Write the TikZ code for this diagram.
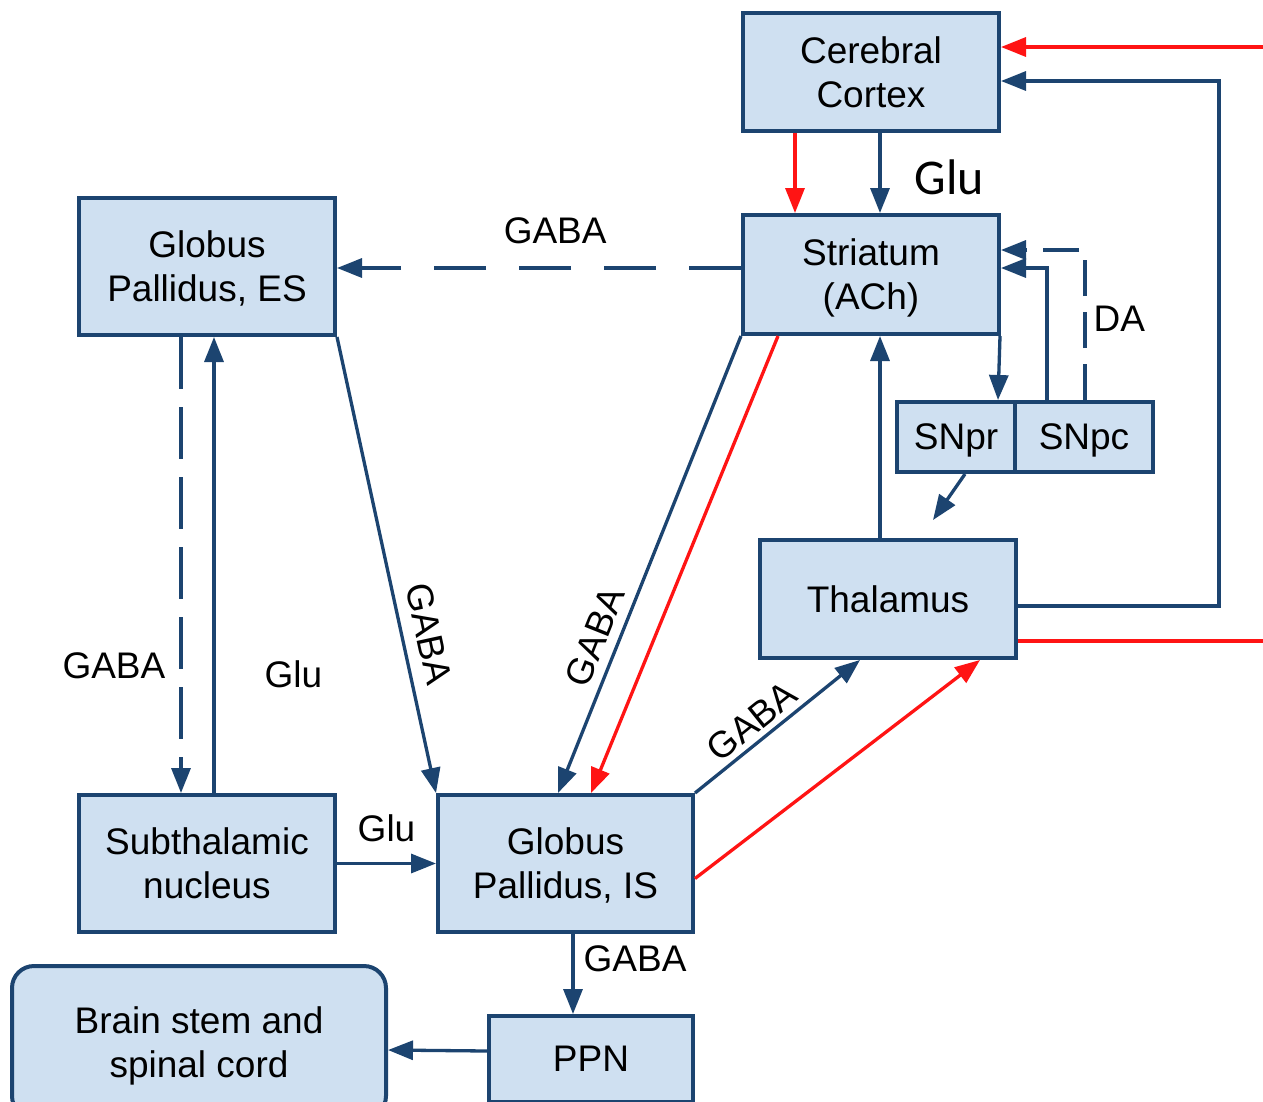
\documentclass[tikz,border=0pt]{standalone}
\usepackage{fontspec}
\setmainfont{Liberation Sans}
\newfontfamily\glufont{Carlito}
\usetikzlibrary{arrows.meta,calc}
\definecolor{boxfill}{RGB}{207,224,241}
\definecolor{dkblue}{RGB}{28,68,112}
\definecolor{myred}{RGB}{255,20,20}
\begin{document}
\begin{tikzpicture}[x=1pt,y=-1pt,
  box/.style={draw=dkblue, line width=4pt, fill=boxfill, inner sep=0pt, align=center, text depth=0pt, font=\fontsize{37}{44}\selectfont},
  conn/.style={draw=dkblue, line width=3.3pt, -{Triangle[length=25pt,width=19pt]}},
  redconn/.style={draw=myred, line width=3.3pt, -{Triangle[length=25pt,width=19pt]}},
  dashconn/.style={conn, dash pattern=on 52pt off 33pt},
  lbl/.style={font=\fontsize{37}{44}\selectfont, inner sep=2pt, text=black},
]
\useasboundingbox (0,0) rectangle (1263,1101);
\fill[white] (0,0) rectangle (1263,1101);
\clip (0,0) rectangle (1263,1101);

% nodes
\node[box, minimum width=256pt, minimum height=118pt] (cortex) at (871,72) {Cerebral\\Cortex};
\node[box, minimum width=256pt, minimum height=119pt] (stri) at (871,274.5) {Striatum\\(ACh)};
\node[box, minimum width=256pt, minimum height=137pt] (gpe) at (207,266.5) {Globus\\Pallidus, ES};
\node[box, minimum width=118pt, minimum height=70pt] (snpr) at (956,437) {SNpr};
\node[box, minimum width=138pt, minimum height=70pt] (snpc) at (1084,437) {SNpc};
\node[box, minimum width=256pt, minimum height=118pt] (thal) at (888,599) {Thalamus};
\node[box, minimum width=256pt, minimum height=137pt] (stn) at (207,863.5) {Subthalamic\\nucleus};
\node[box, minimum width=255pt, minimum height=137pt] (gpi) at (565.5,863.5) {Globus\\Pallidus, IS};
\node[box, rounded corners=22pt, minimum width=374pt, minimum height=152pt] (bs) at (199,1042) {Brain stem and\\spinal cord};
\node[box, minimum width=204pt, minimum height=86pt] (ppn) at (591,1059) {PPN};

\coordinate (redT) at (1263,47);
\coordinate (redR) at (1263,641);
\coordinate (snprEnd) at (933,520);

% connectors
\draw[redconn] (redT) -- ($(cortex.east)+(0,-25)$);
\draw[conn] ($(thal.east)+(0,7)$) -| (1219,81) -- ($(cortex.east)+(0,9)$);
\draw[draw=myred, line width=3.3pt] ($(thal.east)+(0,42)$) -- (redR);
\draw[redconn] ($(cortex.south)+(-76,0)$) -- ($(stri.north)+(-76,0)$);
\draw[conn] ($(cortex.south)+(9,0)$) -- node[pos=0.56, right=31pt, lbl, font=\glufont\fontsize{50}{56}\selectfont] {Glu} ($(stri.north)+(9,0)$);
\draw[dashconn] ($(stri.west)+(0,-6.5)$) -- node[pos=0.46, above=20pt, lbl] {GABA} ($(gpe.east)+(0,1.5)$);
\draw[conn] (stri.south west) -- node[pos=0.677, sloped, above=7pt, lbl] {GABA} ($(gpi.north)+(-7.5,0)$);
\draw[redconn] ($(stri.south)+(-93,0)$) -- ($(gpi.north)+(25.5,0)$);
\draw[conn] (gpe.south east) -- node[pos=0.664, sloped, above=10pt, lbl] {GABA} (gpi.north west);
\draw[conn] ($(thal.north)+(-8,0)$) -- ($(stri.south)+(9,0)$);
\draw[conn] ($(stri.south east)+(-1,0)$) -- ($(snpr.north)+(42,0)$);
\draw[conn] ($(snpc.north)+(-37,0)$) |- ($(stri.east)+(0,-6.5)$);
\draw[dashconn, dash pattern=on 36pt off 16pt] ($(snpc.north)+(1,0)$) |- node[pos=0.27, right=5pt, lbl] {DA} ($(stri.east)+(0,-24.5)$);
\draw[conn] ($(snpr.south)+(9,0)$) -- (snprEnd);
\draw[dashconn, dash pattern=on 52pt off 18pt] ($(gpe.south)+(-26,0)$) -- node[pos=0.72, left=12pt, lbl] {GABA} ($(stn.north)+(-26,0)$);
\draw[conn] ($(stn.north)+(7,0)$) -- node[pos=0.26, right=47pt, lbl] {Glu} ($(gpe.south)+(7,0)$);
\draw[conn] (stn.east) -- node[midway, above=18pt, lbl] {Glu} (gpi.west);
\draw[conn] (gpi.north east) -- node[pos=0.42, sloped, above=3pt, lbl] {GABA} ($(thal.south)+(-28,0)$);
\draw[redconn] ($(gpi.east)+(0,15)$) -- ($(thal.south)+(92,0)$);
\draw[conn] ($(gpi.south)+(7.5,0)$) -- node[pos=0.31, right=7pt, lbl] {GABA} ($(ppn.north)+(-18,0)$);
\draw[conn] ($(ppn.west)+(0,-8)$) -- ($(bs.east)+(0,8)$);
\end{tikzpicture}
\end{document}
